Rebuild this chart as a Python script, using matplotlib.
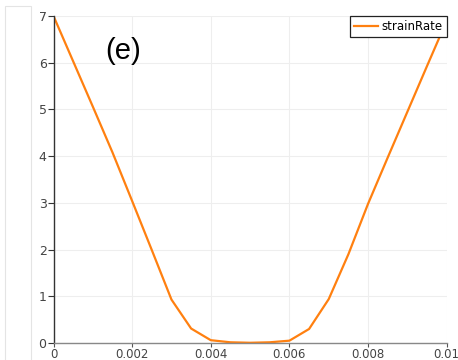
import numpy as np
import matplotlib
matplotlib.use("Agg")
import matplotlib.pyplot as plt
from matplotlib.ticker import FuncFormatter
from matplotlib.patches import Rectangle

# strain rate profile
x = [0.0, 0.0005, 0.001, 0.0015, 0.002, 0.0025, 0.003, 0.0035, 0.004, 0.0045, 0.005,
     0.0055, 0.006, 0.0065, 0.007, 0.0075, 0.008, 0.0085, 0.009, 0.0095, 0.01]
strainRate = [7.0, 6.03, 5.06, 4.08, 3.04, 1.99, 0.93, 0.31, 0.06, 0.015, 0.005,
              0.015, 0.05, 0.30, 0.94, 1.9, 2.98, 3.97, 4.95, 5.93, 6.9]
xticks = [0, 0.002, 0.004, 0.006, 0.008, 0.01]
yticks = [0, 1, 2, 3, 4, 5, 6, 7]

fig = plt.figure(figsize=(4.58, 3.6), dpi=100)
ax = fig.add_axes([53.5/458, 17/360, (446.7-53.5)/458, (343-16)/360])

# faint panel frame on the far left
fig.patches.append(Rectangle((5/458, -0.1), 26/458, 1.1 - 6/360, transform=fig.transFigure,
                             fill=False, edgecolor="#e4e4e4", linewidth=0.8))

ax.plot(x, strainRate, color="#ff8010", lw=1.6, label="strainRate", solid_joinstyle="miter")

ax.set_xlim(0, 0.01)
ax.set_ylim(0, 7)
ax.set_xticks(xticks)
ax.set_yticks(yticks)
ax.xaxis.set_major_formatter(FuncFormatter(lambda v, p: "%g" % v))
ax.grid(True, color="#eeeeee", lw=0.8)
ax.set_axisbelow(True)

for s in ["top", "right"]:
    ax.spines[s].set_visible(False)
ax.spines["left"].set_color("#333333")
ax.spines["left"].set_linewidth(1.0)
ax.spines["bottom"].set_color("#888888")
ax.spines["bottom"].set_linewidth(1.0)
ax.tick_params(axis="y", length=4, width=0.8, color="#333333", labelcolor="#444444",
               labelsize=9, pad=1)
ax.tick_params(axis="x", length=3, width=0.8, color="#555555", labelcolor="#444444",
               labelsize=8.5, pad=0.5)

ax.text(123/458, 1 - 51/360, "(e)", transform=fig.transFigure, fontsize=21,
        family="Liberation Sans", ha="center", va="center")

leg = ax.legend(loc="upper right", borderaxespad=0, fontsize=8.5, handlelength=2.0,
                handletextpad=0.3, borderpad=0.35, fancybox=False, framealpha=1)
leg.get_frame().set_edgecolor("#222222")
leg.get_frame().set_linewidth(0.9)

fig.savefig("out.png", dpi=100)
